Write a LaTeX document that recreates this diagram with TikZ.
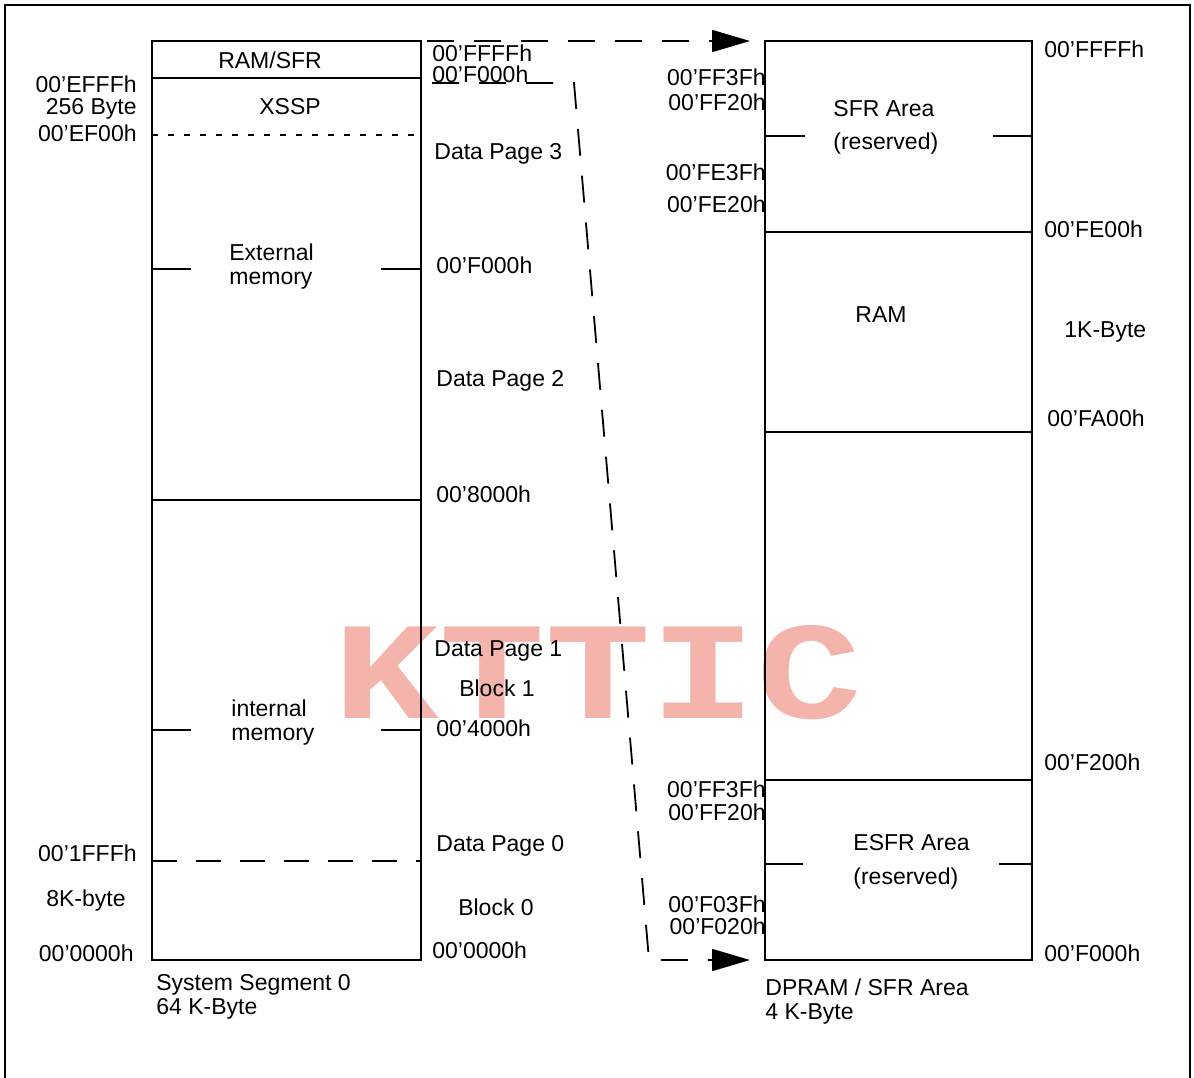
\documentclass[tikz,border=0pt]{standalone}
\usepackage{fontspec}
\setmainfont{Liberation Sans}
\newfontfamily\markfont{Liberation Mono}
\usepackage{tikz}
\usetikzlibrary{arrows.meta}
\definecolor{ink}{HTML}{000000}
\definecolor{stamp}{HTML}{F4B3AB}
\newcommand{\labfont}{\fontsize{11.5}{12}\selectfont}
\tikzset{
  memline/.style ={draw=ink, line width=1pt},
  cutline/.style ={draw=ink, line width=1pt, dash pattern=on 3pt off 5pt},
  segdash/.style ={draw=ink, line width=1pt, dash pattern=on 12.5pt off 9.5pt},
  maparr/.style  ={draw=ink, line width=0.9pt, dash pattern=on 13.5pt off 10pt,
                   -{Triangle[length=19pt,width=11pt]}},
  lbl/.style     ={font=\labfont, inner sep=0pt, text height=8.25pt, text depth=0pt},
  lw/.style      ={lbl, anchor=west},
  le/.style      ={lbl, anchor=east},
  blk/.style     ={font=\labfont, inner sep=0pt, align=left, anchor=north west},
  stamptxt/.style={font=\markfont\bfseries\fontsize{88}{88}\selectfont, text=stamp, inner sep=0pt},
}

\begin{document}
\begin{tikzpicture}[x=0.5pt,y=-0.5pt]
  \useasboundingbox (0,0) rectangle (1194,1077);
  \node[stamptxt] (stamp) at (598,673) {\scalebox{1}[0.79]{KTTIC}};
  \draw[memline] (5,1090) -- (5,5) -- (1190,5) -- (1190,1090);

  % system segment 0
  \coordinate (s0nw) at (152,41);
  \coordinate (s0ne) at (421,41);
  \coordinate (s0se) at (421,960);
  \draw[memline] (s0nw) rectangle (s0se);
  \draw[memline] (152,78) -- (421,78);
  \draw[cutline] (152,135) -- (421,135);
  \draw[memline] (152,500) -- (421,500);
  \draw[segdash] (152,861) -- (421,861);
  \draw[memline] (152,269) -- (191,269) (381,269) -- (421,269);
  \draw[memline] (152,730) -- (191,730) (381,730) -- (421,730);

  % dpram / sfr area
  \coordinate (dpnw) at (765,41);
  \coordinate (dpsw) at (765,960);
  \coordinate (dpse) at (1032,960);
  \draw[memline] (dpnw) rectangle (dpse);
  \draw[memline] (765,232) -- (1032,232);
  \draw[memline] (765,432) -- (1032,432);
  \draw[memline] (765,780) -- (1032,780);
  \draw[memline] (765,136) -- (805,136) (993,136) -- (1032,136);
  \draw[memline] (765,864) -- (803,864) (999,864) -- (1032,864);

  \coordinate (pgstart) at (432,83);
  \coordinate (bendtop) at (574,83);
  \coordinate (bendbot) at (649,960);
  \draw[maparr, shorten <=3pt, shorten >=7.5pt] (s0ne) -- (dpnw);
  \draw[maparr, shorten >=7.5pt] (pgstart) -- (bendtop) -- (bendbot) -- (dpsw);

  \node[le] (efff) at (137,84) {00’EFFFh};
  \node[le] (b256) at (137,106) {256 Byte};
  \node[le] (ef00) at (137,133) {00’EF00h};
  \node[le] (a1fff) at (137,853) {00’1FFFh};
  \node[lbl] (k8) at (86,898) {8K-byte};
  \node[le] (a0000) at (134,953) {00’0000h};

  \node[lbl] (ramsfr) at (270,60) {RAM/SFR};
  \node[lbl] (xssp) at (290,106) {XSSP};
  \node[blk] (extmem) at (229,243) {External\\memory};
  \node[blk] (intmem) at (231,699) {internal\\memory};

  \node[lw] (pgffff) at (432,53) {00’FFFFh};
  \node[lw] (pgf000) at (432,74) {00’F000h};
  \node[lw] (dp3) at (434,151) {Data Page 3};
  \node[lw] (pf000) at (436,265) {00’F000h};
  \node[lw] (dp2) at (436,378) {Data Page 2};
  \node[lw] (p8000) at (436,494) {00’8000h};
  \node[lw] (dp1) at (434,648) {Data Page 1};
  \node[lbl] (blk1) at (497,688) {Block 1};
  \node[lw] (p4000) at (436,728) {00’4000h};
  \node[lw] (dp0) at (436,843) {Data Page 0};
  \node[lbl] (blk0) at (496,907) {Block 0};
  \node[lw] (p0000) at (432,950) {00’0000h};

  \node[le] (ff3f) at (766,77) {00’FF3Fh};
  \node[le] (ff20) at (766,102) {00’FF20h};
  \node[le] (fe3f) at (766,172) {00’FE3Fh};
  \node[le] (fe20) at (766,204) {00’FE20h};
  \node[le] (eff3f) at (766,789) {00’FF3Fh};
  \node[le] (eff20) at (766,812) {00’FF20h};
  \node[le] (f03f) at (766,904) {00’F03Fh};
  \node[le] (f020) at (766,926) {00’F020h};

  \node[blk] (sfr) at (833,100) {SFR Area\\[4.5pt](reserved)};
  \node[lbl] (ram) at (881,314) {RAM};
  \node[blk] (esfr) at (853,834) {ESFR Area\\[5pt](reserved)};

  \node[lw] (rffff) at (1044,49) {00’FFFFh};
  \node[lw] (rfe00) at (1044,229) {00’FE00h};
  \node[lw] (k1) at (1064,329) {1K-Byte};
  \node[lw] (rfa00) at (1047,418) {00’FA00h};
  \node[lw] (rf200) at (1044,762) {00’F200h};
  \node[lw] (rf000) at (1044,953) {00’F000h};

  \node[blk] (s0cap) at (156,974) {System Segment 0\\64 K-Byte};
  \node[blk] (dpcap) at (765,978) {DPRAM / SFR Area\\4 K-Byte};
\end{tikzpicture}
\end{document}
